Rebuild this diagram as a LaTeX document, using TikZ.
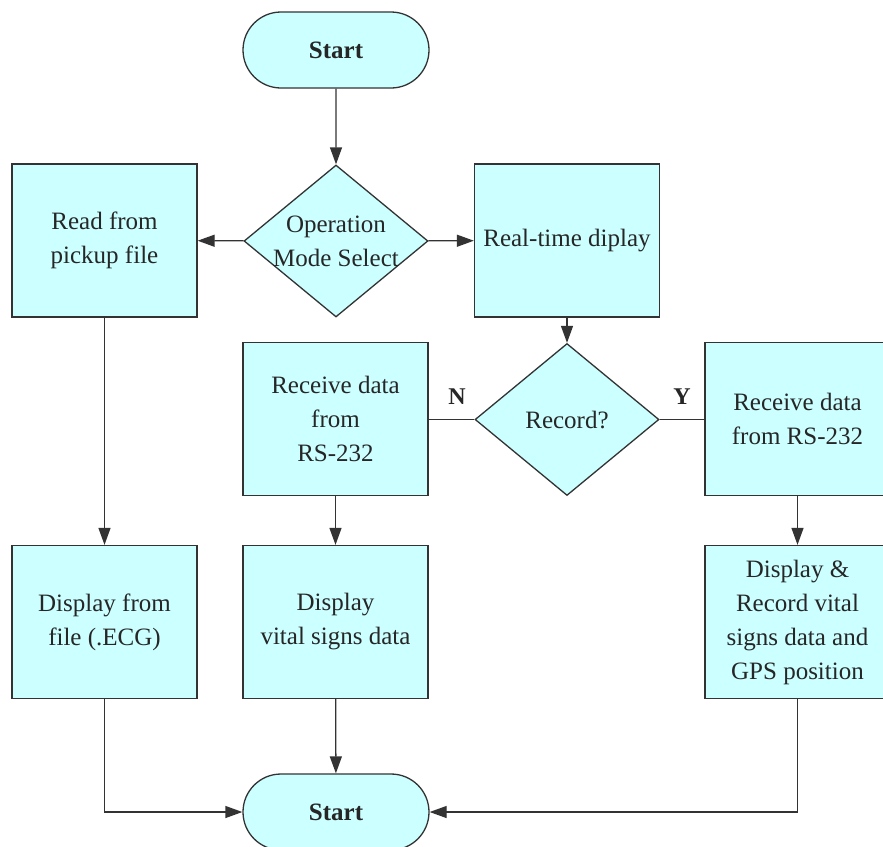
\documentclass[tikz,border=0pt]{standalone}
\usepackage{fontspec}
\setmainfont{Liberation Serif}
\usetikzlibrary{shapes.geometric,shapes.misc,arrows.meta}
\definecolor{boxfill}{HTML}{CCFFFF}
\definecolor{edge}{HTML}{333333}
\begin{document}
\begin{tikzpicture}[x=1pt,y=-1pt,
  every node/.style={font=\fontsize{25}{34}\selectfont, text=black!85},
  proc/.style={draw=edge, line width=1.3pt, fill=boxfill, rectangle, minimum width=185pt, minimum height=153pt, inner sep=0pt, align=center},
  term/.style={draw=edge, line width=1.3pt, fill=boxfill, rounded rectangle, minimum width=186pt, minimum height=76pt, inner sep=0pt, font=\bfseries\fontsize{25}{34}\selectfont},
  decide/.style={draw=edge, line width=1.3pt, fill=boxfill, diamond, minimum width=184pt, minimum height=152pt, inner sep=0pt},
  txt/.style={align=center, inner sep=0pt},
  flag/.style={font=\bfseries\fontsize{24}{28}\selectfont, inner sep=0pt},
  arr/.style={draw=edge, line width=1.3pt, -{Triangle[length=17pt,width=12pt]}},
  ln/.style={draw=edge, line width=1.3pt}
]
\useasboundingbox (0,0) rectangle (883,846);
\clip (0,0) rectangle (883,846);

\node[term] (start) at (336,50) {Start};
\node[decide] (op) at (336,241) {};
\node[txt] (optxt) at (336,241) {Operation\\Mode Select};
\node[proc] (read) at (104.5,240.5) {Read from\\pickup file};
\node[proc] (rt) at (567,240.5) {Real-time diplay};
\node[decide] (rec) at (567,419.5) {};
\node[txt] (rectxt) at (567,419.5) {Record?};
\node[proc] (recvL) at (335.5,419) {Receive data\\from\\RS-232};
\node[proc] (recvR) at (797.5,419) {Receive data\\from RS-232};
\node[proc] (dfile) at (104.5,622) {Display from\\file (.ECG)};
\node[proc] (dvital) at (335.5,622) {Display\\vital signs data};
\node[proc] (drec) at (797.5,622) {Display \&\\Record vital\\signs data and\\GPS position};
\node[term] (stop) at (336,812) {Start};

\node[flag] (lblN) at (457,397) {N};
\node[flag] (lblY) at (682,397) {Y};

\draw[arr] (start) -- (op);
\draw[arr] (op) -- (read);
\draw[arr] (op) -- (rt);
\draw[arr] (rt) -- (rec);
\draw[ln] (rec.west) -- (recvL.east |- rec.west);
\draw[ln] (rec.east) -- (recvR.west |- rec.east);
\draw[arr] (read) -- (dfile);
\draw[arr] (recvL) -- (dvital);
\draw[arr] (recvR) -- (drec);
\draw[arr] (dvital) -- (stop);
\draw[arr] (dfile.south) |- (stop.west);
\draw[arr] (drec.south) |- (stop.east);
\end{tikzpicture}
\end{document}
